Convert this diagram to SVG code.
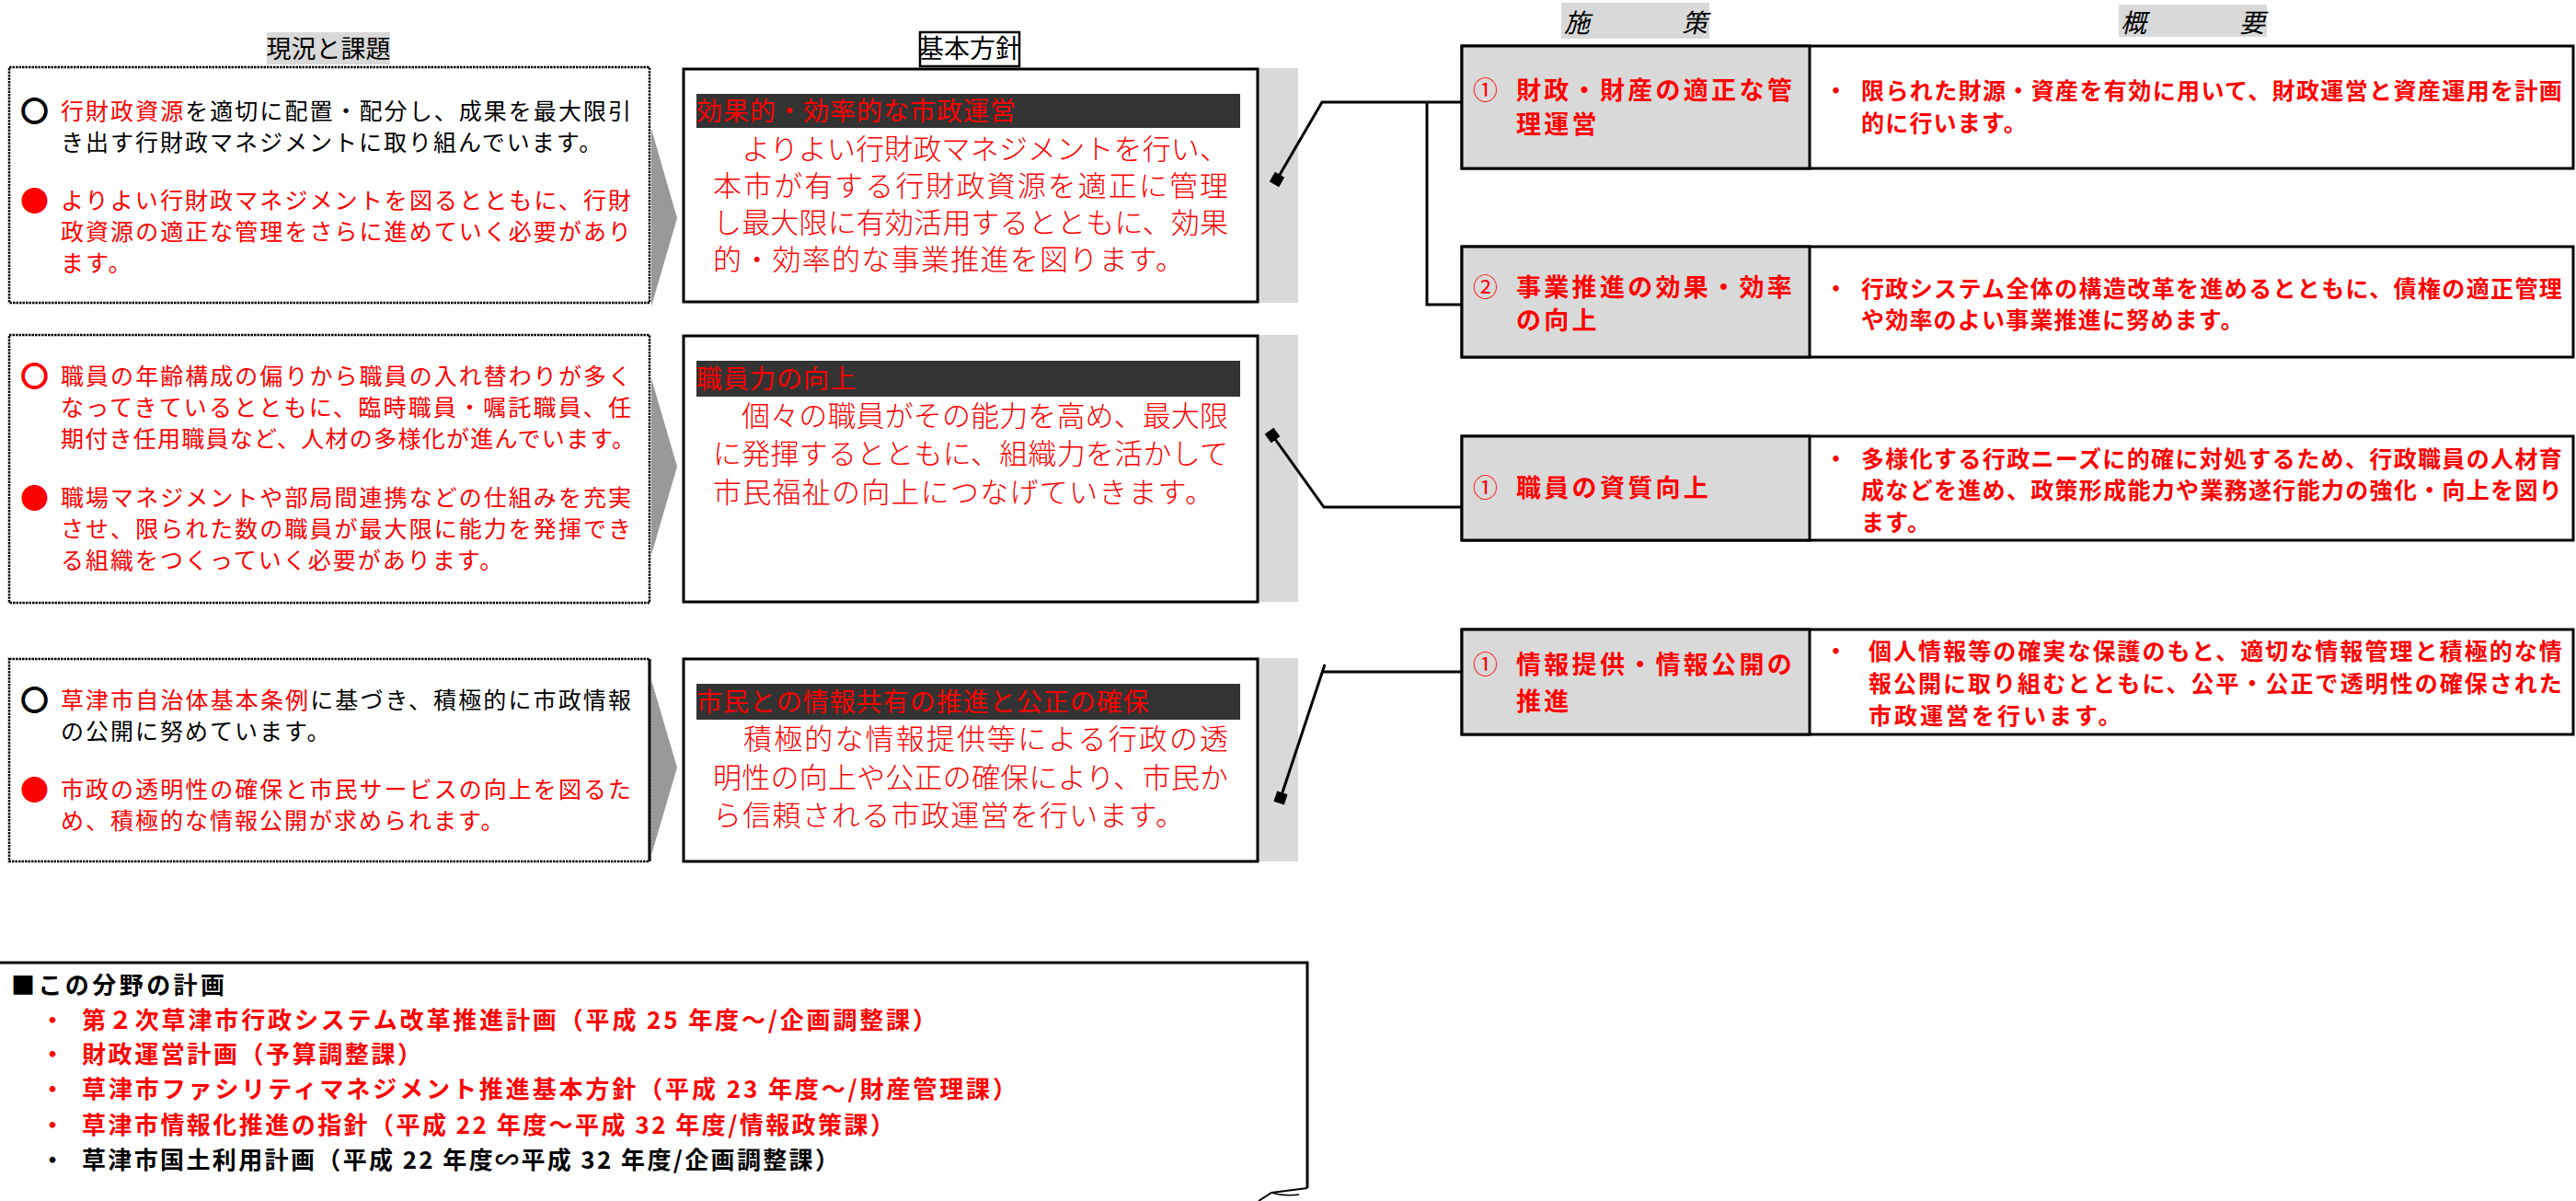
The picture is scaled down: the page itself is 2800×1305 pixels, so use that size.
<svg xmlns="http://www.w3.org/2000/svg" width="2800" height="1305" viewBox="0 0 2800 1305">
<style>
text{font-family:"Noto Sans CJK JP","Noto Sans CJK SC",sans-serif}
.lt{font-size:25px;letter-spacing:2px;fill:#000}
.sym{font-size:31px;font-weight:bold}
.r{fill:#f00}
.k{fill:#000}
.body{font-size:31px;font-weight:300;fill:#f00}
.bt{font-size:28px;fill:#f00;letter-spacing:1px}
.tl{font-size:27px;font-weight:bold;letter-spacing:3.3px;fill:#f00}
.td{font-size:25px;font-weight:bold;letter-spacing:1.2px;fill:#f00}
.bb{font-size:26px;font-weight:bold}
.hd{font-size:27px;fill:#000}
.it{font-size:28px;font-style:italic;fill:#000}
.dot{fill:#fff;stroke:#000;stroke-width:2.5;stroke-dasharray:2.5 1}
.box{fill:#fff;stroke:#000;stroke-width:3}
.shadow{fill:#d9d9d9}
.band{fill:#333}
.chev{fill:#999}
.cell{fill:#d9d9d9;stroke:#000;stroke-width:3}
.cellw{fill:#fff;stroke:#000;stroke-width:3}
.conn{fill:none;stroke:#000;stroke-width:3}
</style>
<defs>
<marker id="sq" markerWidth="14" markerHeight="14" refX="7" refY="7" orient="auto" markerUnits="userSpaceOnUse">
<rect x="1" y="1" width="12" height="12" fill="#000"/>
</marker>
</defs>

<!-- headers -->
<g id="hdr-genkyo">
<rect x="290" y="35" width="134" height="35" fill="#d9d9d9"/>
<text class="hd" x="357" y="63" text-anchor="middle">現況と課題</text>
</g>
<g id="hdr-houshin">
<rect x="1000" y="35" width="108" height="37" fill="#fff" stroke="#000" stroke-width="2.5"/>
<text class="hd" x="1054" y="63" text-anchor="middle" style="font-size:28px">基本方針</text>
</g>
<g id="hdr-shisaku">
<rect x="1697" y="3" width="161" height="39" fill="#d9d9d9"/>
<text class="it" y="35"><tspan x="1700">施</tspan><tspan x="1828">策</tspan></text>
</g>
<g id="hdr-gaiyou">
<rect x="2303" y="5" width="161" height="35" fill="#d9d9d9"/>
<text class="it" y="35"><tspan x="2305">概</tspan><tspan x="2434">要</tspan></text>
</g>

<!-- left boxes -->
<g id="issue-1">
<rect class="dot" x="10" y="73" width="696" height="256"/>
<polygon class="chev" points="708,140 736,237 708,333"/>
<text class="sym k" x="22" y="132">〇</text>
<text class="lt" x="66" y="130" textLength="622"><tspan class="r">行財政資源</tspan>を適切に配置・配分し、成果を最大限引</text>
<text class="lt" x="66" y="164">き出す行財政マネジメントに取り組んでいます。</text>
<text class="sym r" x="22" y="229">●</text>
<text class="lt r" x="66" y="227" textLength="622">よりよい行財政マネジメントを図るとともに、行財</text>
<text class="lt r" x="66" y="261" textLength="622">政資源の適正な管理をさらに進めていく必要があり</text>
<text class="lt r" x="66" y="295">ます。</text>
</g>

<g id="issue-2">
<rect class="dot" x="10" y="364" width="696" height="291"/>
<polygon class="chev" points="708,411 736,507 708,603"/>
<text class="sym r" x="22" y="420">〇</text>
<text class="lt r" x="66" y="418" textLength="622">職員の年齢構成の偏りから職員の入れ替わりが多く</text>
<text class="lt r" x="66" y="452" textLength="622">なってきているとともに、臨時職員・嘱託職員、任</text>
<text class="lt r" x="66" y="486" textLength="626">期付き任用職員など、人材の多様化が進んでいます。</text>
<text class="sym r" x="22" y="552">●</text>
<text class="lt r" x="66" y="550" textLength="622">職場マネジメントや部局間連携などの仕組みを充実</text>
<text class="lt r" x="66" y="584" textLength="622">させ、限られた数の職員が最大限に能力を発揮でき</text>
<text class="lt r" x="66" y="618">る組織をつくっていく必要があります。</text>
</g>

<g id="issue-3">
<rect class="dot" x="10" y="716" width="696" height="220"/>
<line x1="706" y1="716" x2="706" y2="936" stroke="#000" stroke-width="3"/>
<polygon class="chev" points="708,739 736,834 708,929"/>
<text class="sym k" x="22" y="772">〇</text>
<text class="lt" x="66" y="770" textLength="622"><tspan class="r">草津市自治体基本条例</tspan>に基づき、積極的に市政情報</text>
<text class="lt" x="66" y="804">の公開に努めています。</text>
<text class="sym r" x="22" y="869">●</text>
<text class="lt r" x="66" y="867" textLength="622">市政の透明性の確保と市民サービスの向上を図るた</text>
<text class="lt r" x="66" y="901">め、積極的な情報公開が求められます。</text>
</g>

<!-- policy boxes -->
<g id="policy-1">
<rect class="shadow" x="1368" y="74" width="43" height="255"/>
<rect class="box" x="743" y="75" width="624" height="253"/>
<rect class="band" x="757" y="102" width="591" height="37"/>
<text class="bt" x="757" y="131">効果的・効率的な市政運営</text>
<text class="body" x="775" y="173" textLength="560">　よりよい行財政マネジメントを行い、</text>
<text class="body" x="775" y="213" textLength="560">本市が有する行財政資源を適正に管理</text>
<text class="body" x="775" y="253" textLength="560">し最大限に有効活用するとともに、効果</text>
<text class="body" x="775" y="293" textLength="512">的・効率的な事業推進を図ります。</text>
</g>

<g id="policy-2">
<rect class="shadow" x="1368" y="364" width="43" height="290"/>
<rect class="box" x="743" y="365" width="624" height="289"/>
<rect class="band" x="757" y="392" width="591" height="39"/>
<text class="bt" x="757" y="422">職員力の向上</text>
<text class="body" x="775" y="463" textLength="560">　個々の職員がその能力を高め、最大限</text>
<text class="body" x="775" y="504" textLength="560">に発揮するとともに、組織力を活かして</text>
<text class="body" x="775" y="546" textLength="544">市民福祉の向上につなげていきます。</text>
</g>

<g id="policy-3">
<rect class="shadow" x="1368" y="715" width="43" height="221"/>
<rect class="box" x="743" y="716" width="624" height="220"/>
<rect class="band" x="757" y="743" width="591" height="39"/>
<text class="bt" x="757" y="773">市民との情報共有の推進と公正の確保</text>
<text class="body" x="775" y="814" textLength="560">　積極的な情報提供等による行政の透</text>
<text class="body" x="775" y="856" textLength="560">明性の向上や公正の確保により、市民か</text>
<text class="body" x="775" y="897" textLength="512">ら信頼される市政運営を行います。</text>
</g>

<!-- measure tables -->
<g id="measure-1">
<rect class="cellw" x="1589" y="50" width="1208" height="133"/>
<rect class="cell" x="1589" y="50" width="378" height="133"/>
<text class="tl" x="1601" y="108" style="font-weight:normal">①</text>
<text class="tl" x="1648" y="108">財政・財産の適正な管</text>
<text class="tl" x="1648" y="145">理運営</text>
<text class="td" x="1983" y="108">・</text>
<text class="td" x="2023" y="108" textLength="763">限られた財源・資産を有効に用いて、財政運営と資産運用を計画</text>
<text class="td" x="2023" y="143">的に行います。</text>
</g>

<g id="measure-2">
<rect class="cellw" x="1589" y="268" width="1208" height="120"/>
<rect class="cell" x="1589" y="268" width="378" height="120"/>
<text class="tl" x="1601" y="322" style="font-weight:normal">②</text>
<text class="tl" x="1648" y="322">事業推進の効果・効率</text>
<text class="tl" x="1648" y="358">の向上</text>
<text class="td" x="1983" y="323">・</text>
<text class="td" x="2023" y="323" textLength="763">行政システム全体の構造改革を進めるとともに、債権の適正管理</text>
<text class="td" x="2023" y="357">や効率のよい事業推進に努めます。</text>
</g>

<g id="measure-3">
<rect class="cellw" x="1589" y="474" width="1208" height="113"/>
<rect class="cell" x="1589" y="474" width="378" height="113"/>
<text class="tl k" x="1601" y="540" style="font-weight:normal">①</text>
<text class="tl" x="1648" y="540">職員の資質向上</text>
<text class="td" x="1983" y="508">・</text>
<text class="td" x="2023" y="508" textLength="763">多様化する行政ニーズに的確に対処するため、行政職員の人材育</text>
<text class="td" x="2023" y="542" textLength="763">成などを進め、政策形成能力や業務遂行能力の強化・向上を図り</text>
<text class="td" x="2023" y="577">ます。</text>
</g>

<g id="measure-4">
<rect class="cellw" x="1589" y="684" width="1208" height="114"/>
<rect class="cell" x="1589" y="684" width="378" height="114"/>
<text class="tl" x="1601" y="732" style="font-weight:normal">①</text>
<text class="tl" x="1648" y="732">情報提供・情報公開の</text>
<text class="tl" x="1648" y="772">推進</text>
<text class="td" x="1983" y="717">・</text>
<text class="td" x="2031" y="717" textLength="755">個人情報等の確実な保護のもと、適切な情報管理と積極的な情</text>
<text class="td" x="2031" y="752" textLength="755">報公開に取り組むとともに、公平・公正で透明性の確保された</text>
<text class="td" x="2031" y="787" style="letter-spacing:3px">市政運営を行います。</text>
</g>

<!-- connectors -->
<g id="connectors">
<path class="conn" marker-start="url(#sq)" d="M1388,195 L1437,111 H1589"/>
<path class="conn" d="M1551,111 V331 H1589"/>
<path class="conn" marker-start="url(#sq)" d="M1383,473 L1439,551 H1589"/>
<path class="conn" marker-start="url(#sq)" d="M1392,867 L1440,722"/>
<path class="conn" d="M1438,730 H1589"/>
</g>

<!-- plan box -->
<g id="plans">
<path d="M-5,1046 H1421 V1291" fill="none" stroke="#000" stroke-width="3"/>
<path d="M1421,1291 L1382,1296 L1368,1305" fill="none" stroke="#000" stroke-width="2"/>
<path d="M1382,1296 Q1395,1300 1412,1298" fill="none" stroke="#000" stroke-width="1.5"/>
<text class="bb k" x="12" y="1080" textLength="232">■この分野の計画</text>
<text class="bb r" x="44" y="1118">・</text>
<text class="bb r" x="89" y="1118" textLength="929">第２次草津市行政システム改革推進計画（平成 25 年度～/企画調整課）</text>
<text class="bb r" x="44" y="1155">・</text>
<text class="bb r" x="89" y="1155" textLength="369">財政運営計画（予算調整課）</text>
<text class="bb r" x="44" y="1193">・</text>
<text class="bb r" x="89" y="1193" textLength="1016">草津市ファシリティマネジメント推進基本方針（平成 23 年度～/財産管理課）</text>
<text class="bb r" x="44" y="1232">・</text>
<text class="bb r" x="89" y="1232" textLength="883">草津市情報化推進の指針（平成 22 年度～平成 32 年度/情報政策課）</text>
<text class="bb k" x="44" y="1270">・</text>
<text class="bb k" x="89" y="1270" textLength="823">草津市国土利用計画（平成 22 年度∽平成 32 年度/企画調整課）</text>
</g>
</svg>
